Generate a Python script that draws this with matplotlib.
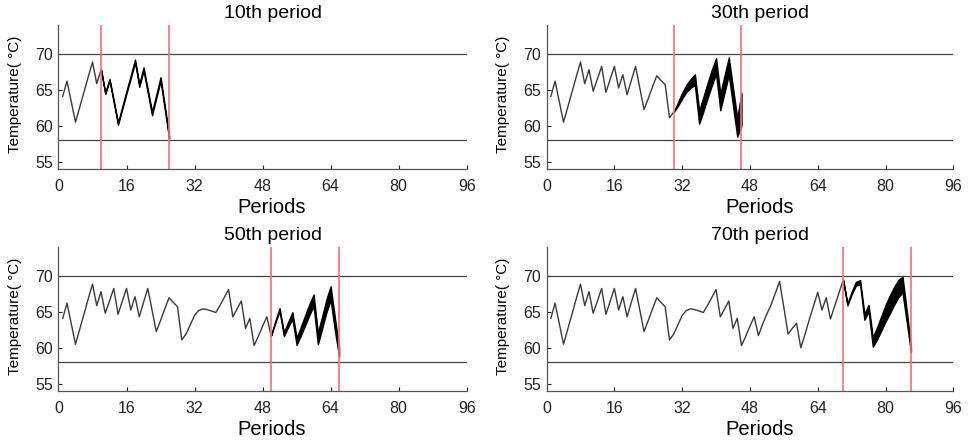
import numpy as np
import matplotlib
matplotlib.use('Agg')
from matplotlib import pyplot as plt

plt.rcParams['font.family'] = ['Liberation Sans', 'DejaVu Sans']

# Temperatura medida en cada periodo (1..70), comun a los cuatro paneles.
history = [64.1, 66.2, 63.35, 60.5, 62.6, 64.7, 66.8, 68.85, 65.85, 67.8,
           64.8, 66.5, 68.25, 64.65, 66.45, 68.25, 65.25, 67.1, 64.3, 66.3,
           68.25, 65.25, 62.25, 63.8, 65.4, 66.95, 66.3, 65.7, 61.1, 61.9,
           63.2, 64.5, 65.2, 65.4, 65.3, 65.1, 64.9, 65.9, 67.0, 68.1,
           64.3, 65.4, 66.5, 62.7, 64.1, 60.3, 61.6, 63.0, 64.3, 61.7,
           63.3, 64.7, 66.0, 67.6, 69.2, 65.6, 61.9, 62.7, 63.4, 60.0,
           61.9, 63.9, 65.8, 67.7, 65.25, 66.95, 64.0, 65.8, 67.6, 69.4]

# Periodo actual de cada panel y horizonte de prediccion.
starts = [10, 30, 50, 70]
horizon = 16
titles = ['10th period', '30th period', '50th period', '70th period']

# Prediccion (centro) y semi-ancho de la banda, 17 valores por panel.
pred_10 = [67.8, 64.5, 66.4, 63.35, 60.3, 62.5, 64.7, 66.8, 69.0, 65.6,
           67.9, 64.8, 61.7, 64.1, 66.5, 62.5, 58.5]
spread_10 = [0, .06, .1, .12, .14, .16, .18, .2, .2, .2, .22, .22, .24, .24, .25, .25, .25]

pred_30 = [61.9, 63.0, 64.2, 65.2, 65.9, 66.4, 61.2, 63.0, 64.9, 66.7,
           68.3, 63.3, 65.8, 68.3, 64.0, 59.8, 62.3]
spread_30 = [0, .25, .4, .5, .6, .75, .9, 1.0, 1.05, 1.1, 1.1, 1.15, 1.2, 1.2, 1.25, 1.3, 2.3]

pred_50 = [61.7, 63.6, 65.3, 61.9, 63.2, 64.5, 60.9, 62.3, 63.8, 65.3,
           66.6, 61.3, 63.5, 65.8, 67.6, 63.3, 59.4]
spread_50 = [0, .12, .2, .28, .35, .45, .5, .6, .7, .75, .8, .8, .85, .9, .95, .9, .6]

pred_70 = [69.4, 66.0, 67.6, 68.9, 69.1, 64.3, 65.5, 60.8, 62.0, 63.4,
           64.8, 66.0, 67.2, 68.2, 68.8, 64.4, 59.8]
spread_70 = [0, .12, .18, .25, .3, .4, .45, .65, .85, 1.0, 1.15, 1.25, 1.25, 1.2, 1.1, .8, .4]

preds = [pred_10, pred_30, pred_50, pred_70]
spreads = [spread_10, spread_30, spread_50, spread_70]

t_upper, t_lower = 70, 58

fig = plt.figure(figsize=(9.7, 4.44), dpi=100)
rects = [[0.0603, 0.6194, 0.4208, 0.3243], [0.5635, 0.6194, 0.4193, 0.3243],
         [0.0603, 0.1194, 0.4208, 0.3243], [0.5635, 0.1194, 0.4193, 0.3243]]

for rect, start, title, pred, spread in zip(rects, starts, titles, preds, spreads):
    ax = fig.add_axes(rect)
    x_hist = np.arange(1, start + 1)
    ax.plot(x_hist, history[:start], color='#3a3a3a', lw=1.0)

    x_pred = np.arange(start, start + horizon + 1)
    mid = np.array(pred)
    sp = np.array(spread)
    ax.fill_between(x_pred, mid - sp, mid + sp, color='black', lw=1.0, edgecolor='black')

    ax.axhline(t_upper, color='#444444', lw=0.9)
    ax.axhline(t_lower, color='#444444', lw=0.9)
    ax.axvline(start, color='#f2707e', lw=1.2)
    ax.axvline(start + horizon, color='#f2707e', lw=1.2)

    ax.set_xlim(0, 96)
    ax.set_ylim(54, 74)
    ax.set_xticks(range(0, 97, 16))
    ax.set_yticks([55, 60, 65, 70])
    ax.tick_params(direction='in', length=3, width=0.8, labelsize=11.5,
                   colors='#222222')
    ax.tick_params(axis='x', pad=7)
    ax.tick_params(axis='y', pad=4)
    for s in ['top', 'right']:
        ax.spines[s].set_visible(False)
    for s in ['left', 'bottom']:
        ax.spines[s].set_color('#555555')
        ax.spines[s].set_linewidth(0.9)

    ax.set_title(title, fontsize=14, pad=5, x=0.525)
    ax.set_xlabel('Periods', fontsize=14.5)
    ax.xaxis.set_label_coords(0.523, -0.2)
    ax.set_ylabel('Temperature( °C)', fontsize=11)
    ax.yaxis.set_label_coords(-0.09, 0.52)

plt.savefig('out.png', dpi=100)
